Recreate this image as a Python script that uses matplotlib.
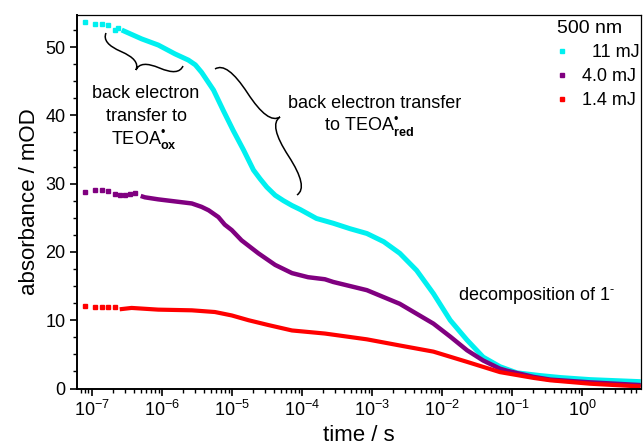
import matplotlib
matplotlib.use("Agg")
import matplotlib.pyplot as plt
import numpy as np
from matplotlib.path import Path
from matplotlib.patches import PathPatch
from matplotlib.ticker import LogLocator, MultipleLocator, NullFormatter, FixedLocator

plt.rcParams['font.family'] = ['Liberation Sans', 'DejaVu Sans']
plt.rcParams['mathtext.fontset'] = 'custom'
plt.rcParams['mathtext.rm'] = 'Liberation Sans'
plt.rcParams['mathtext.it'] = 'Liberation Sans:italic'
plt.rcParams['mathtext.bf'] = 'Liberation Sans:bold'
plt.rcParams['axes.unicode_minus'] = False

# 数据（log10 时间 / s，吸光度 / mOD）
# 11 mJ（青色）
log_t_11_early = [-7.094, -6.953, -6.857, -6.763, -6.667, -6.620]
abs_11_early = [53.7, 53.4, 53.4, 53.3, 52.5, 52.8]
log_t_11 = [-6.571, -6.286, -6.049, -5.81, -5.62, -5.52, -5.43, -5.26, -5.12,
            -4.98, -4.83, -4.69, -4.595, -4.50, -4.38, -4.26, -4.14, -4.02,
            -3.79, -3.55, -3.31, -3.07, -2.83, -2.60, -2.36, -2.12, -1.88,
            -1.64, -1.41, -1.17, -0.93, -0.60, -0.30, 0.12, 0.84]
abs_11 = [52.5, 51.2, 50.3, 49.0, 48.1, 47.4, 46.3, 43.7, 40.7,
          37.8, 34.9, 32.0, 30.7, 29.5, 28.3, 27.5, 26.8, 26.2,
          24.9, 24.2, 23.4, 22.7, 21.5, 19.8, 17.3, 13.9, 10.0,
          7.1, 4.6, 3.2, 2.3, 1.9, 1.6, 1.3, 1.0]

# 4.0 mJ（紫色）
log_t_40_early = [-7.094, -6.953, -6.857, -6.763, -6.667, -6.596, -6.523, -6.451, -6.380]
abs_40_early = [28.8, 29.0, 29.0, 28.9, 28.5, 28.4, 28.4, 28.5, 28.7]
log_t_40 = [-6.30, -6.24, -6.05, -5.81, -5.57, -5.43, -5.33, -5.19, -5.10,
            -5.00, -4.86, -4.62, -4.38, -4.14, -3.91, -3.67, -3.55, -3.07,
            -2.60, -2.12, -1.88, -1.64, -1.41, -1.17, -1.07, -0.69, -0.45,
            0.12, 0.84]
abs_40 = [28.2, 28.0, 27.7, 27.4, 27.1, 26.6, 26.1, 25.1, 24.0,
          23.2, 21.7, 19.8, 18.1, 16.9, 16.3, 16.0, 15.6, 14.4,
          12.4, 9.5, 7.6, 5.6, 4.1, 2.9, 2.6, 1.7, 1.3,
          0.9, 0.5]

# 1.4 mJ（红色）
log_t_14_early = [-7.094, -6.953, -6.857, -6.763, -6.667]
abs_14_early = [12.1, 11.95, 12.0, 12.0, 11.95]
log_t_14 = [-6.60, -6.43, -6.05, -5.57, -5.24, -5.00, -4.76, -4.48, -4.14,
            -3.67, -3.07, -2.60, -2.12, -1.64, -1.17, -0.69, -0.45, 0.12, 0.84]
abs_14 = [11.6, 11.8, 11.55, 11.45, 11.2, 10.7, 10.0, 9.3, 8.5,
          8.05, 7.2, 6.3, 5.4, 3.9, 2.4, 1.55, 1.2, 0.7, 0.3]

# x 轴主刻度（十进位指数）
decades = [-7, -6, -5, -4, -3, -2, -1, 0]

series = [
    ("  11 mJ", "#00F0F0", log_t_11_early, abs_11_early, log_t_11, abs_11, 3.6),
    ("4.0 mJ", "#800080", log_t_40_early, abs_40_early, log_t_40, abs_40, 3.2),
    ("1.4 mJ", "#FF0000", log_t_14_early, abs_14_early, log_t_14, abs_14, 3.0),
]

W, H = 644, 447
fig = plt.figure(figsize=(W / 100, H / 100), dpi=100)
ax = fig.add_axes([76.7 / W, 1 - 388.5 / H, (640.7 - 76.7) / W, (388.5 - 15) / H])

handles = []
for label, color, lte, ae, lt, a, lw in series:
    ax.plot(10 ** np.array(lte), ae, ls='none', marker='s', ms=2.6,
            mec=color, mfc=color)
    ax.plot(10 ** np.array(lt), a, color=color, lw=lw,
            solid_capstyle='butt', solid_joinstyle='round')
    h, = ax.plot([], [], ls='none', marker='s', ms=2.6, mec=color, mfc=color, label=label)
    handles.append(h)

ax.set_xscale('log')
ax.set_xlim(10 ** -7.214, 10 ** 0.84)
ax.set_ylim(0, 54.7)

ax.xaxis.set_major_locator(FixedLocator(10.0 ** np.array(decades)))
ax.xaxis.set_minor_locator(LogLocator(base=10, subs=np.arange(2, 10), numticks=100))
ax.xaxis.set_minor_formatter(NullFormatter())
ax.yaxis.set_major_locator(MultipleLocator(10))
ax.yaxis.set_minor_locator(MultipleLocator(2.5))

ax.tick_params(which='major', direction='out', length=5, width=1.2, labelsize=13, pad=3)
ax.tick_params(which='minor', direction='out', length=3, width=1.0)
ax.tick_params(top=False, right=False)
for s in ['left', 'bottom']:
    ax.spines[s].set_linewidth(1.4)
for s in ['top', 'right']:
    ax.spines[s].set_linewidth(0.9)

ax.set_xlabel("time / s", fontsize=16, labelpad=4)
ax.set_ylabel("absorbance / mOD", fontsize=16, labelpad=4)

ax_h = 388.5 - 15
ax_w = 640.7 - 76.7
leg = ax.legend(handles=handles, loc='upper right', frameon=False, title='500 nm',
                fontsize=13, title_fontsize=14, alignment='left',
                handlelength=0.5, handletextpad=0.9, labelspacing=0.4,
                bbox_to_anchor=(1 + 1 / ax_w, 1 - 3 / ax_h),
                borderaxespad=0, borderpad=0.1)


def px(x, y):
    return x / W, 1 - y / H


def brace(p0, p1, tip):
    # 花括号：p0、p1 为两端，tip 为尖端（像素坐标，y 向下）
    p0, p1, tip = np.array(p0, float), np.array(p1, float), np.array(tip, float)
    L = np.linalg.norm(p1 - p0)
    e = (p1 - p0) / L
    d = tip - p0
    m = d @ e
    nv = d - m * e
    h = np.linalg.norm(nv)
    n = nv / h
    loc = [(0, 0), (0, h / 2), (m / 2, h / 2), (m, h / 2), (m, h),
           (m, h / 2), ((m + L) / 2, h / 2), (L, h / 2), (L, 0)]
    pts = [px(*(p0 + u * e + v * n)) for u, v in loc]
    codes = [Path.MOVETO] + [Path.CURVE3] * 8
    fig.add_artist(PathPatch(Path(pts, codes), fill=False, lw=1.1, color='black',
                             transform=fig.transFigure))


brace((106, 33), (183, 66), (136, 70))
brace((215, 69), (297, 195), (280, 117))

fs = 13
fig.text(*px(146, 98), "back electron", ha='center', va='baseline', fontsize=fs)
fig.text(*px(146, 121), "transfer to", ha='center', va='baseline', fontsize=fs)
fig.text(*px(144, 144), "TEOA$^{\u2022}_{\\mathbf{ox}}$", ha='center', va='baseline', fontsize=fs)
fig.text(*px(375, 108), "back electron transfer", ha='center', va='baseline', fontsize=fs)
fig.text(*px(369, 131), "to TEOA$^{\u2022}_{\\mathbf{red}}$", ha='center', va='baseline', fontsize=fs)
fig.text(*px(458, 300), r"decomposition of 1$^{\text{-}}$", ha='left', va='baseline', fontsize=fs)

fig.savefig("out.png", dpi=100)
